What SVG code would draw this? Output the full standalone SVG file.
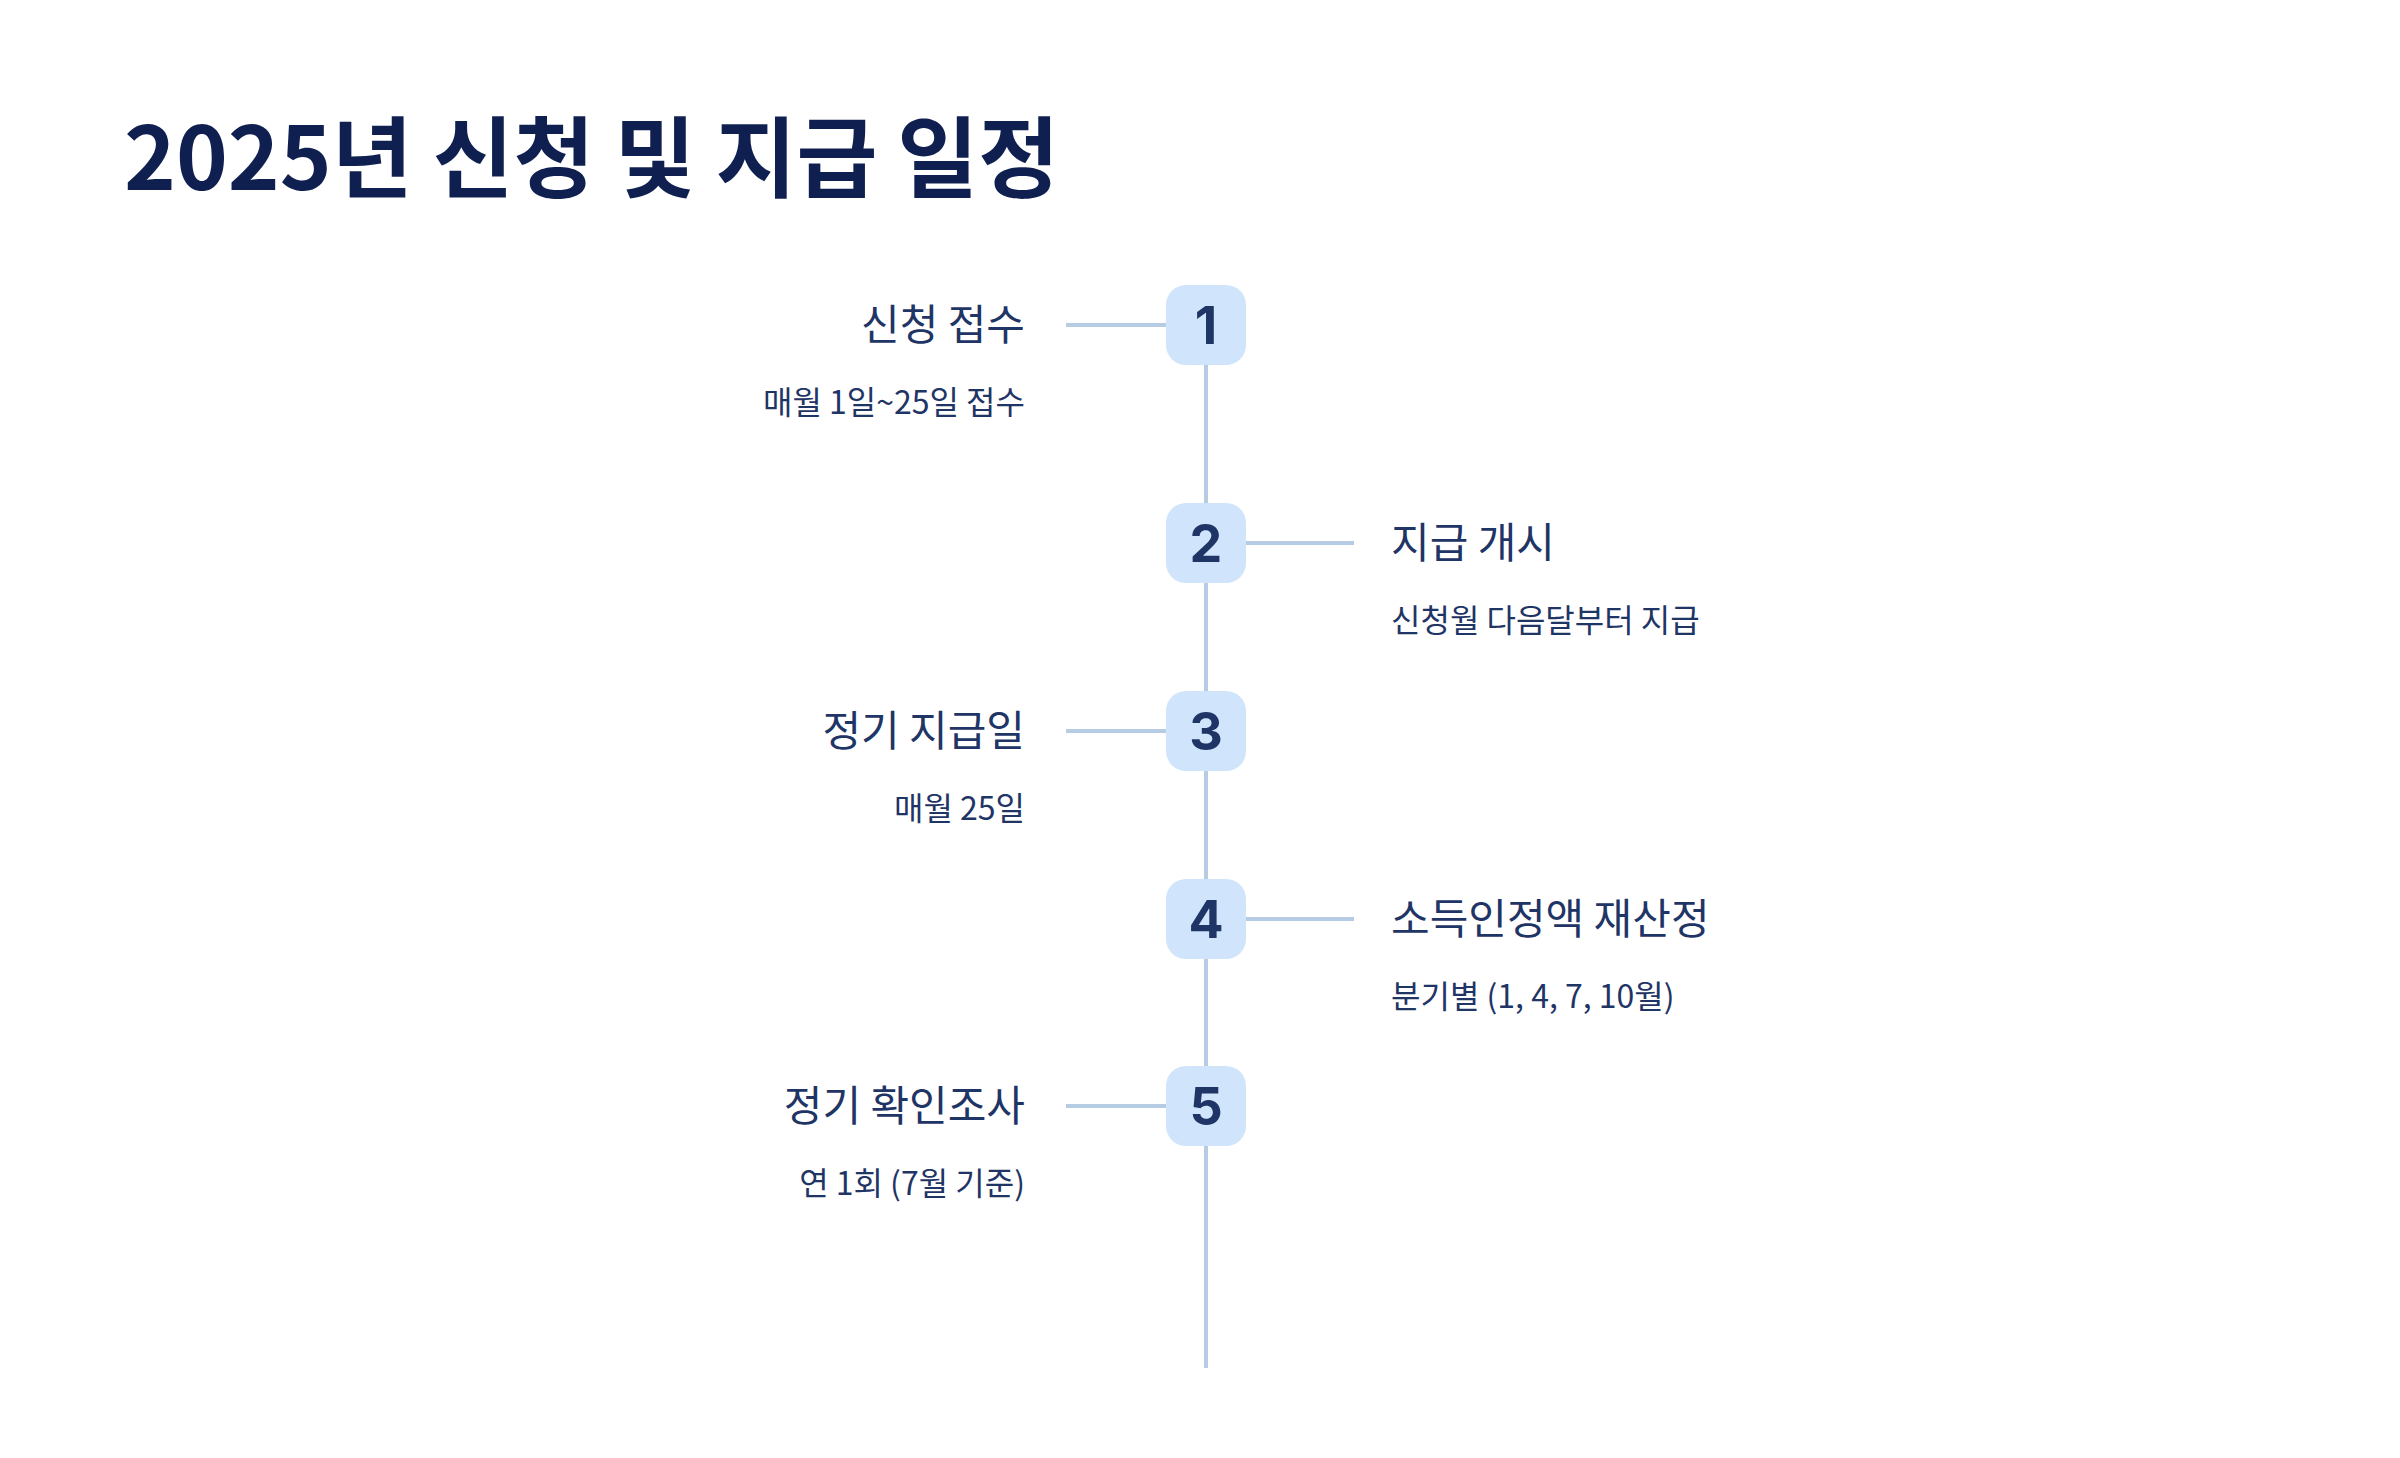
<svg xmlns="http://www.w3.org/2000/svg" width="2400" height="1458" viewBox="0 0 2400 1458">
<style>
.t{font-family:"Noto Sans CJK KR","Noto Sans",sans-serif;fill:#1f3566}
.m{font-size:42px}
.s{font-size:32px}
.l{text-anchor:end}
.n{font-family:Inter,"Liberation Sans",sans-serif;font-weight:700;font-size:52px;fill:#1f3566;text-anchor:middle}
.b{fill:#d0e5fb}
.c{stroke:#b5cce4;stroke-width:4;fill:none}
</style>
<rect width="2400" height="1458" fill="#fff"/>
<text x="124" y="190" class="t" style="font-size:88px;font-weight:700;fill:#0f1f4f">2025년 신청 및 지급 일정</text>
<g id="connectors">
<line class="c" x1="1206" y1="360" x2="1206" y2="1368"/>
<line class="c" x1="1066" y1="325" x2="1170" y2="325"/>
<line class="c" x1="1242" y1="543" x2="1354" y2="543"/>
<line class="c" x1="1066" y1="731" x2="1170" y2="731"/>
<line class="c" x1="1242" y1="919" x2="1354" y2="919"/>
<line class="c" x1="1066" y1="1106" x2="1170" y2="1106"/>
</g>
<g id="n1"><rect class="b" x="1166" y="285" width="80" height="80" rx="20"/><text class="n" x="1206" y="344">1</text>
<text class="t m l" x="1025" y="340">신청 접수</text><text class="t s l" x="1025" y="414">매월 1일~25일 접수</text></g>
<g id="n2"><rect class="b" x="1166" y="503" width="80" height="80" rx="20"/><text class="n" x="1206" y="562">2</text>
<text class="t m" x="1391" y="558">지급 개시</text><text class="t s" x="1391" y="632">신청월 다음달부터 지급</text></g>
<g id="n3"><rect class="b" x="1166" y="691" width="80" height="80" rx="20"/><text class="n" x="1206" y="750">3</text>
<text class="t m l" x="1025" y="746">정기 지급일</text><text class="t s l" x="1025" y="820">매월 25일</text></g>
<g id="n4"><rect class="b" x="1166" y="879" width="80" height="80" rx="20"/><text class="n" x="1206" y="938">4</text>
<text class="t m" x="1391" y="934">소득인정액 재산정</text><text class="t s" x="1391" y="1008">분기별 (1, 4, 7, 10월)</text></g>
<g id="n5"><rect class="b" x="1166" y="1066" width="80" height="80" rx="20"/><text class="n" x="1206" y="1125">5</text>
<text class="t m l" x="1025" y="1121">정기 확인조사</text><text class="t s l" x="1025" y="1195">연 1회 (7월 기준)</text></g>
</svg>
